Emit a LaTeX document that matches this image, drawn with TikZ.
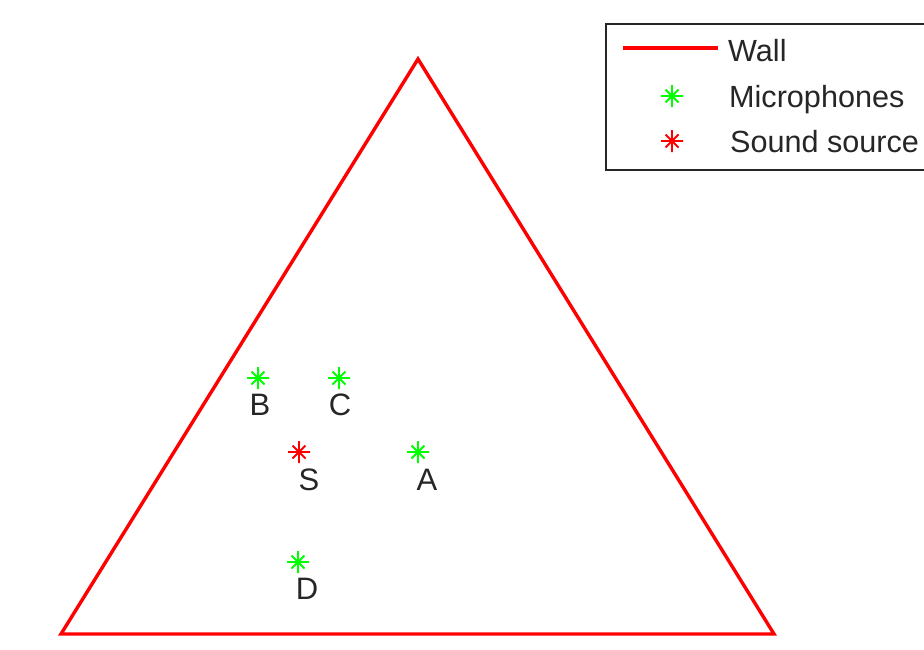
\documentclass[tikz,border=0pt]{standalone}
\usepackage{fontspec}
\setmainfont{Liberation Sans}
\usetikzlibrary{calc}
\newcommand\astmark[2]{%
  \draw[#2, line width=1.9pt] ($(#1)+(-11,0)$) -- ($(#1)+(11,0)$)
    ($(#1)+(0,-11)$) -- ($(#1)+(0,11)$)
    ($(#1)+(-6.5,-6.5)$) -- ($(#1)+(6.5,6.5)$)
    ($(#1)+(-6.5,6.5)$) -- ($(#1)+(6.5,-6.5)$);}
\begin{document}
\begin{tikzpicture}[x=1pt,y=-1pt,
  wall/.style={draw=red, line width=3.4pt, line join=miter},
  lbl/.style={inner sep=0pt, font=\fontsize{31}{36}\selectfont, text=black!85},
  legtext/.style={inner sep=0pt, anchor=base west, font=\fontsize{30.6}{36}\selectfont, text=black!85},
  mic/.style={draw={rgb,255:red,0;green,255;blue,0}},
  src/.style={draw=red}]
\useasboundingbox (0,0) rectangle (924,649);
\clip (0,0) rectangle (924,649);
% triangle wall
\coordinate (top) at (418,59);
\coordinate (bl) at (61,634);
\coordinate (br) at (774,634);
\draw[wall] (top) -- (br) -- (bl) -- cycle;
% markers
\coordinate (mB) at (258,378);
\coordinate (mC) at (339,378);
\coordinate (mS) at (299,452);
\coordinate (mA) at (418,452);
\coordinate (mD) at (298,562);
\astmark{mB}{mic}
\astmark{mC}{mic}
\astmark{mA}{mic}
\astmark{mD}{mic}
\astmark{mS}{src}
% labels
\node[lbl] (lB) at (260,405) {B};
\node[lbl] (lC) at (340,405) {C};
\node[lbl] (lS) at (309,480) {S};
\node[lbl] (lA) at (427,480) {A};
\node[lbl] (lD) at (307,589) {D};
% legend
\node[draw=black!85, line width=1.8pt, fill=white, minimum width=340pt, minimum height=146pt, anchor=north west, inner sep=0pt] (legend) at (605,23) {};
\coordinate (lw1) at (623,48);
\coordinate (lw2) at (718,48);
\draw[draw=red, line width=3.4pt] (lw1) -- (lw2);
\coordinate (lmic) at (672,96);
\coordinate (lsrc) at (672,141);
\astmark{lmic}{mic}
\astmark{lsrc}{src}
\node[legtext] (tW) at (728,61) {Wall};
\node[legtext] (tM) at (729,107) {Microphones};
\node[legtext] (tS) at (730,152) {Sound source};
\end{tikzpicture}
\end{document}
